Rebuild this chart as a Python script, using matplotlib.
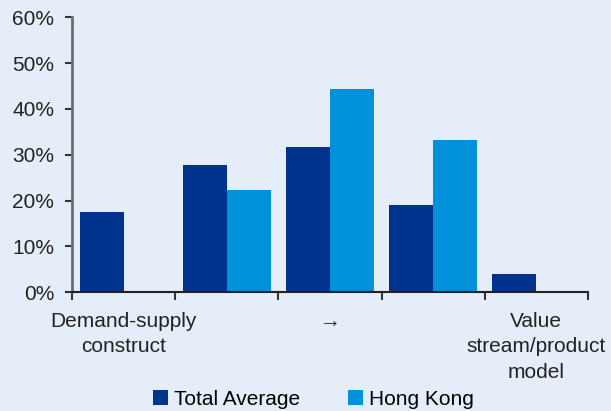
"""
Operating model shares: total average vs Hong Kong
"""

import numpy as np
import matplotlib.pyplot as plt
import matplotlib.ticker as mticker

#---------------------------------------------------------------------------------------------------
# Data
#---------------------------------------------------------------------------------------------------

categories = ['Demand-supply\nconstruct', '', '\u2192', '', 'Value\nstream/product\nmodel']
total_avg = [17.5, 27.8, 31.7, 19.0, 4.0]
hong_kong = [0.0, 22.3, 44.3, 33.2, 0.0]
series_names = ['Total Average', 'Hong Kong']

#---------------------------------------------------------------------------------------------------
# Plot
#---------------------------------------------------------------------------------------------------

bg = '#E5EEF8'
dark = '#00338D'
light = '#0091DA'
fontsize = 15

plt.rcParams['font.family'] = ['Liberation Sans', 'DejaVu Sans']

fig = plt.figure(figsize=(6.11, 4.11), dpi=100, facecolor=bg)
ax = fig.add_axes([0.118, 0.289, 0.844, 0.669])
ax.set_facecolor(bg)

x = np.arange(len(categories))
w = 0.425
ax.bar(x - w/2, total_avg, width=w, color=dark, label=series_names[0])
ax.bar(x + w/2, hong_kong, width=w, color=light, label=series_names[1])

ax.set_xlim(-0.5, len(categories) - 0.5)
ax.set_ylim(0, 60)
ax.yaxis.set_major_locator(mticker.MultipleLocator(10))
ax.yaxis.set_major_formatter(mticker.FuncFormatter(lambda v, pos: f"{v:.0f}%"))

# Category boundaries as major ticks, labels on minor ticks at centres
ax.set_xticks(np.arange(len(categories) + 1) - 0.5)
ax.set_xticklabels([])
lab_idx = [i for i, c in enumerate(categories) if c]
ax.set_xticks(lab_idx, minor=True)
ax.set_xticklabels([categories[i] for i in lab_idx], minor=True, linespacing=1.45)
ax.tick_params(axis='x', which='minor', length=0, pad=14, labelsize=fontsize, colors='#222222')
ax.tick_params(axis='x', which='major', length=6, width=1.5, color='#333333')
ax.tick_params(axis='y', length=5, width=1.5, color='#333333', labelsize=fontsize,
               labelcolor='#222222', pad=8)

for s in ['top', 'right']:
    ax.spines[s].set_visible(False)
ax.spines['left'].set_color('#6e6e6e')
ax.spines['left'].set_linewidth(2)
ax.spines['bottom'].set_color('#222222')
ax.spines['bottom'].set_linewidth(1.5)

fig.legend(loc='center', bbox_to_anchor=(0.513, 0.028), ncols=2, frameon=False,
           fontsize=fontsize, handlelength=0.7, handleheight=0.7, handletextpad=0.3,
           columnspacing=2.3, borderaxespad=0)

plt.savefig('out.png', facecolor=bg)
plt.close()
